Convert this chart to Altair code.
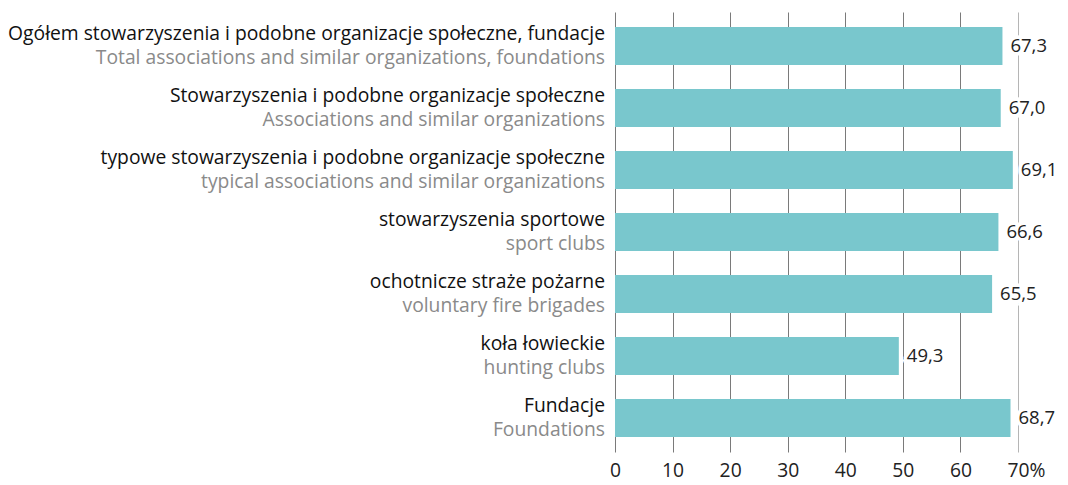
import altair as alt
import pandas as pd

pl_labels = [
    "Ogółem stowarzyszenia i podobne organizacje społeczne, fundacje",
    "Stowarzyszenia i podobne organizacje społeczne",
    "typowe stowarzyszenia i podobne organizacje społeczne",
    "stowarzyszenia sportowe",
    "ochotnicze straże pożarne",
    "koła łowieckie",
    "Fundacje",
]
en_labels = [
    "Total associations and similar organizations, foundations",
    "Associations and similar organizations",
    "typical associations and similar organizations",
    "sport clubs",
    "voluntary fire brigades",
    "hunting clubs",
    "Foundations",
]
values = [67.3, 67.0, 69.1, 66.6, 65.5, 49.3, 68.7]
x_ticks = [0, 10, 20, 30, 40, 50, 60, 70]

df = pd.DataFrame({
    "pl": pl_labels,
    "en": en_labels,
    "value": values,
    "label": [f"{v:.1f}".replace(".", ",") for v in values],
})

FONT = "Open Sans"
FS = 19.3
y_enc = alt.Y("pl:N", sort=pl_labels, axis=None,
              scale=alt.Scale(paddingInner=0.387, paddingOuter=0.242))

base = alt.Chart(df)

bars = base.mark_bar(color="#79C7CD").encode(
    x=alt.X("value:Q",
            scale=alt.Scale(domain=[0, 70], nice=False),
            axis=alt.Axis(values=x_ticks, title=None, domain=False, ticks=False,
                          labelFontSize=FS, labelFont=FONT, labelColor="#222",
                          labelPadding=9,
                          labelAlign=alt.condition("datum.value == 70", alt.value("left"), alt.value("center")),
                          labelOffset=alt.condition("datum.value == 70", alt.value(-11), alt.value(0)),
                          labelExpr="datum.value == 70 ? '70%' : datum.label",
                          gridColor=alt.condition("datum.value == 70", alt.value("#b5b5b5"), alt.value("#7a7a7a")),
                          gridWidth=1)),
    y=y_enc,
)

halo = base.mark_text(align="left", baseline="middle", dx=8, fontSize=18.5,
                      font=FONT, color="white", stroke="white", strokeWidth=7).encode(
    x="value:Q", y=y_enc, text="label:N")

vals = base.mark_text(align="left", baseline="middle", dx=8, fontSize=18.5,
                      font=FONT, color="#222").encode(
    x="value:Q", y=y_enc, text="label:N")

pl_text = base.mark_text(align="right", baseline="middle", dy=-12, fontSize=FS,
                         font=FONT, color="#111").encode(
    x=alt.value(-10), y=y_enc, text="pl:N")

en_text = base.mark_text(align="right", baseline="middle", dy=12, fontSize=FS,
                         font=FONT, color="#8a8a8a").encode(
    x=alt.value(-10), y=y_enc, text="en:N")

chart = alt.layer(bars, halo, vals, pl_text, en_text).properties(
    width=403, height=440,
    padding={"left": 607, "top": 4, "right": 42, "bottom": 34},
    autosize=alt.AutoSizeParams(type="none"),
).configure_view(stroke=None)

chart.save("out.html", embed_options={"renderer": "svg", "actions": False})
